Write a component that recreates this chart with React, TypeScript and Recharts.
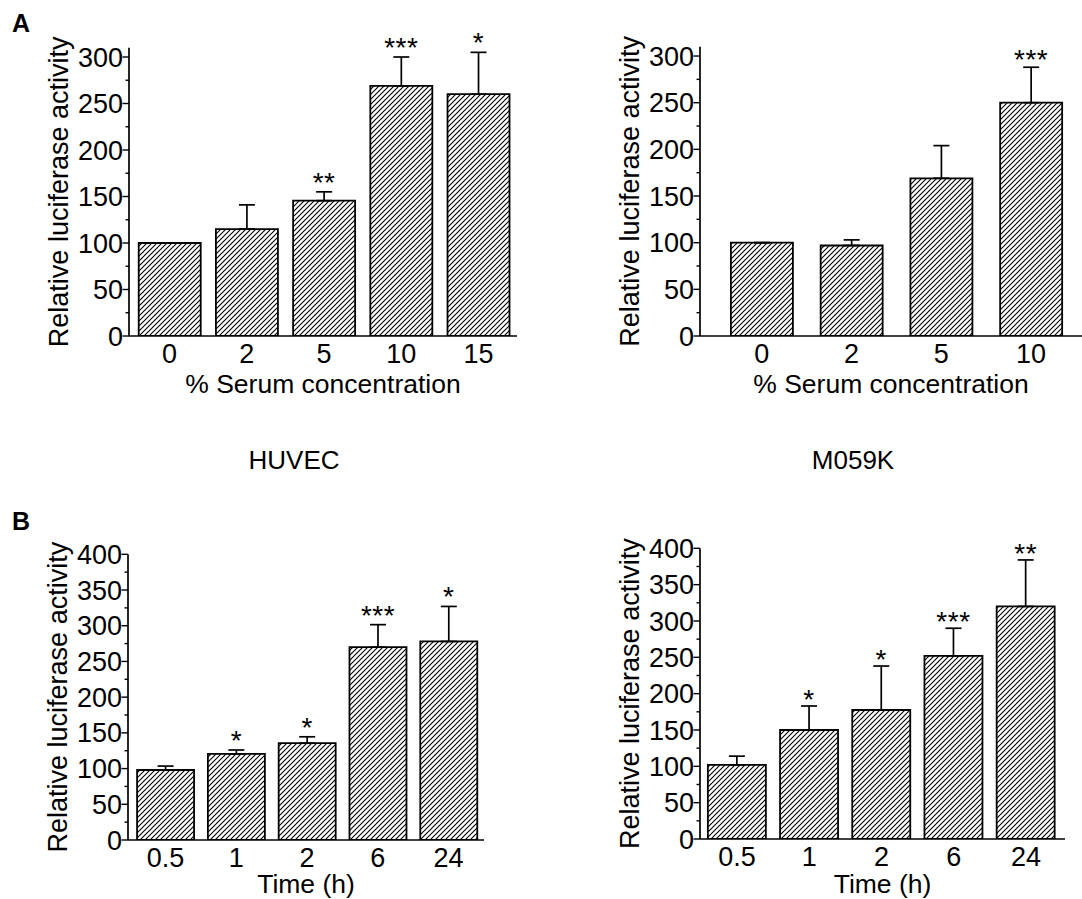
import React from 'react';
import { BarChart, Bar, XAxis, YAxis, ErrorBar, LabelList, Label } from 'recharts';

// ---------- data ----------
const serumCatsHuvec = ['0', '2', '5', '10', '15'];
const huvecSerumMean = [100, 115, 145.5, 269, 260];
const huvecSerumErr = [0, 26, 9.5, 31, 45];
const huvecSerumSig = ['', '', '**', '***', '*'];

const serumCatsM059k = ['0', '2', '5', '10'];
const m059kSerumMean = [100, 97, 169, 250];
const m059kSerumErr = [0, 6, 35, 38];
const m059kSerumSig = ['', '', '', '***'];

const timeCats = ['0.5', '1', '2', '6', '24'];
const huvecTimeMean = [98, 120.5, 135.5, 270, 278];
const huvecTimeErr = [5.5, 5.5, 9, 31.5, 49];
const huvecTimeSig = ['', '*', '*', '***', '*'];

const m059kTimeMean = [102, 150, 177.5, 252, 320];
const m059kTimeErr = [12, 33, 60.5, 38, 64];
const m059kTimeSig = ['', '*', '*', '***', '**'];

const ticks300 = [0, 25, 50, 75, 100, 125, 150, 175, 200, 225, 250, 275, 300];
const ticks400 = [0, 25, 50, 75, 100, 125, 150, 175, 200, 225, 250, 275, 300, 325, 350, 375, 400];

const yTitle = 'Relative luciferase activity';
const serumTitle = '% Serum concentration';
const timeTitle = 'Time (h)';

const buildRows = (cats: string[], mean: number[], err: number[], sig: string[]) =>
  cats.map((c, i) => ({
    cat: c,
    v: mean[i],
    err: [0, err[i]],
    lbl: `${sig[i]}|${mean[i]}|${err[i]}`,
  }));

const FONT = '"Liberation Sans", Arial, Helvetica, sans-serif';
const TICK_FS = 27;

const YTick = (props: any) => {
  const { x, y, payload } = props;
  const major = payload.value % 50 === 0;
  return (
    <g>
      <line x1={x - (major ? 6.5 : 3.5)} x2={x} y1={y} y2={y} stroke="#000" strokeWidth={1.4} />
      {major && (
        <text x={x - 6} y={y} dy="0.355em" textAnchor="end" fontSize={TICK_FS} fill="#000" fontFamily={FONT}>
          {payload.value}
        </text>
      )}
    </g>
  );
};

const makeStar = (dy: number) => (props: any) => {
  const vb = props.viewBox && props.viewBox.width !== undefined ? props.viewBox : props;
  const { x, y, width, height } = vb;
  const value = props.value;
  if (!value) return null;
  const parts = String(value).split('|');
  const sig = parts[0];
  if (!sig) return null;
  const v = Number(parts[1]);
  const e = Number(parts[2]);
  const ppu = Math.abs(height) / v;
  const top = Math.min(y, y + height) - e * ppu;
  return (
    <text
      x={x + width / 2}
      y={top + dy}
      textAnchor="middle"
      fontSize={28}
      letterSpacing={0.5}
      fill="#000"
      fontFamily={FONT}
    >
      {sig}
    </text>
  );
};

type PanelProps = {
  id: string;
  left: number;
  top: number;
  width: number;
  height: number;
  marginTop: number;
  marginRight: number;
  yAxisWidth: number;
  xAxisHeight: number;
  padL: number;
  padR: number;
  domainMax: number;
  ticks: number[];
  gap: string;
  rows: any[];
  yLabelOffset: number;
  xLabel: string;
  xLabelOffset: number;
  starDy: number;
};

function Panel(p: PanelProps) {
  return (
    <div style={{ position: 'absolute', left: p.left, top: p.top }}>
      <BarChart
        width={p.width}
        height={p.height}
        data={p.rows}
        margin={{ top: p.marginTop, right: p.marginRight, left: 0, bottom: 0 }}
        barCategoryGap={p.gap}
        style={{ fontFamily: FONT }}
      >
        <defs>
          <pattern id={p.id} patternUnits="userSpaceOnUse" width={5} height={5}>
            <rect width={5} height={5} fill="#fff" />
            <path d="M-1,1 L1,-1 M0,5 L5,0 M4,6 L6,4" stroke="#000" strokeWidth={1.1} />
          </pattern>
        </defs>
        <XAxis
          dataKey="cat"
          height={p.xAxisHeight}
          padding={{ left: p.padL, right: p.padR }}
          axisLine={{ stroke: '#000', strokeWidth: 1.7 }}
          tickLine={false}
          tickSize={0}
          tickMargin={7.5}
          interval={0}
          tick={{ fill: '#000', fontSize: TICK_FS, fontFamily: FONT }}
        >
          <Label
            value={p.xLabel}
            position="insideBottom"
            offset={p.xLabelOffset}
            style={{ fontSize: 26.5, fill: '#000', fontFamily: FONT }}
          />
        </XAxis>
        <YAxis
          type="number"
          width={p.yAxisWidth}
          domain={[0, p.domainMax]}
          ticks={p.ticks}
          interval={0}
          allowDataOverflow
          axisLine={{ stroke: '#000', strokeWidth: 1.7 }}
          tickLine={false}
          tickSize={0}
          tickMargin={0}
          tick={<YTick />}
        >
          <Label
            value={yTitle}
            angle={-90}
            position="insideLeft"
            offset={p.yLabelOffset}
            style={{ fontSize: 27, fill: '#000', fontFamily: FONT, textAnchor: 'middle' }}
          />
        </YAxis>
        <Bar dataKey="v" fill={`url(#${p.id})`} stroke="#000" strokeWidth={1.8} isAnimationActive={false}>
          <ErrorBar dataKey="err" direction="y" width={8} stroke="#000" strokeWidth={1.7} isAnimationActive={false} />
          <LabelList dataKey="lbl" content={makeStar(p.starDy)} />
        </Bar>
      </BarChart>
    </div>
  );
}

export default function App() {
  return (
    <div
      style={{
        position: 'absolute',
        left: 0,
        top: 0,
        width: 1082,
        height: 899,
        background: '#fff',
        overflow: 'hidden',
        fontFamily: FONT,
      }}
    >
      <Panel
        id="hatchA1"
        left={0}
        top={0}
        width={530}
        height={410}
        marginTop={47.7}
        marginRight={13}
        yAxisWidth={129}
        xAxisHeight={74}
        padL={2}
        padR={0}
        domainMax={310}
        ticks={ticks300}
        gap="10%"
        rows={buildRows(serumCatsHuvec, huvecSerumMean, huvecSerumErr, huvecSerumSig)}
        yLabelOffset={58}
        xLabel={serumTitle}
        xLabelOffset={16.7}
        starDy={0}
      />
      <Panel
        id="hatchA2"
        left={600}
        top={0}
        width={482}
        height={410}
        marginTop={46.7}
        marginRight={0}
        yAxisWidth={100}
        xAxisHeight={74}
        padL={17}
        padR={6}
        domainMax={310}
        ticks={ticks300}
        gap="15.5%"
        rows={buildRows(serumCatsM059k, m059kSerumMean, m059kSerumErr, m059kSerumSig)}
        yLabelOffset={29}
        xLabel={serumTitle}
        xLabelOffset={16.7}
        starDy={2}
      />
      <Panel
        id="hatchB1"
        left={0}
        top={470}
        width={500}
        height={429}
        marginTop={84.3}
        marginRight={16}
        yAxisWidth={128}
        xAxisHeight={59}
        padL={2}
        padR={0}
        domainMax={400}
        ticks={ticks400}
        gap="10%"
        rows={buildRows(timeCats, huvecTimeMean, huvecTimeErr, huvecTimeSig)}
        yLabelOffset={57}
        xLabel={timeTitle}
        xLabelOffset={6.5}
        starDy={0}
      />
      <Panel
        id="hatchB2"
        left={600}
        top={470}
        width={482}
        height={429}
        marginTop={78.3}
        marginRight={17}
        yAxisWidth={100}
        xAxisHeight={60}
        padL={1}
        padR={3}
        domainMax={400}
        ticks={ticks400}
        gap="9.5%"
        rows={buildRows(timeCats, m059kTimeMean, m059kTimeErr, m059kTimeSig)}
        yLabelOffset={29}
        xLabel={timeTitle}
        xLabelOffset={6.5}
        starDy={3}
      />
      <svg
        width={1082}
        height={899}
        style={{ position: 'absolute', left: 0, top: 0, pointerEvents: 'none' }}
      >
        <text x={12} y={32} fontSize={25} fontWeight="bold" fill="#000" fontFamily={FONT}>A</text>
        <text x={12} y={530} fontSize={25} fontWeight="bold" fill="#000" fontFamily={FONT}>B</text>
        <text x={294} y={469} fontSize={26} textAnchor="middle" fill="#000" fontFamily={FONT}>HUVEC</text>
        <text x={853} y={469} fontSize={26} textAnchor="middle" fill="#000" fontFamily={FONT}>M059K</text>
      </svg>
    </div>
  );
}
